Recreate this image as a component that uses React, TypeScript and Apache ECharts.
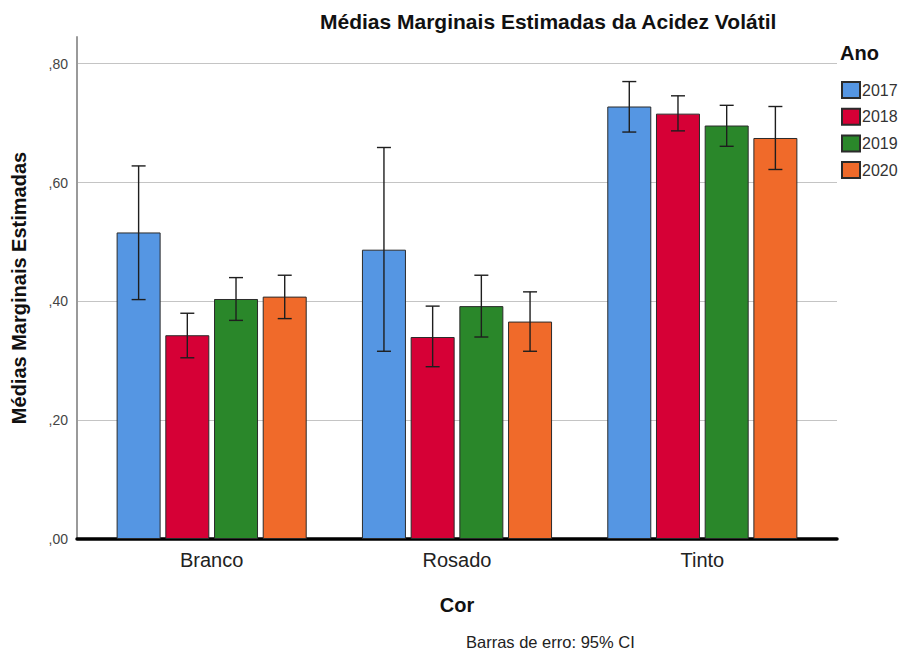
import React, { useEffect, useRef } from "react";
import * as echarts from "echarts";

// Wine colour groups on the x axis
const categories = ["Branco", "Rosado", "Tinto"];
const years = ["2017", "2018", "2019", "2020"];

// Estimated marginal means per year (one value per colour)
const means2017 = [0.516, 0.487, 0.728];
const means2018 = [0.343, 0.34, 0.716];
const means2019 = [0.404, 0.392, 0.696];
const means2020 = [0.408, 0.366, 0.675];

// 95% confidence interval bounds
const lower2017 = [0.403, 0.316, 0.685];
const upper2017 = [0.628, 0.659, 0.77];
const lower2018 = [0.305, 0.29, 0.687];
const upper2018 = [0.38, 0.392, 0.746];
const lower2019 = [0.368, 0.34, 0.661];
const upper2019 = [0.44, 0.444, 0.73];
const lower2020 = [0.371, 0.316, 0.622];
const upper2020 = [0.444, 0.416, 0.728];

const yTicks = [0, 0.2, 0.4, 0.6, 0.8];

const means = [means2017, means2018, means2019, means2020];
const lowers = [lower2017, lower2018, lower2019, lower2020];
const uppers = [upper2017, upper2018, upper2019, upper2020];
const colors = ["#5596e3", "#d60036", "#2a872a", "#f06a2a"];

const FONT = "'Liberation Sans', Arial, sans-serif";
const BAR_WIDTH = 44;
const BAR_GAP_PX = 4.7;
const Y_MAX = 0.845;

function fmtTick(v: number) {
  return "," + Math.round(v * 100).toString().padStart(2, "0");
}

export default function App() {
  const ref = useRef<HTMLDivElement>(null);

  useEffect(() => {
    if (!ref.current) return;
    const chart = echarts.init(ref.current, undefined, { renderer: "svg" });

    const barSeries = years.map((y, i) => ({
      name: y,
      type: "bar",
      xAxisIndex: 1,
      yAxisIndex: 1,
      data: means[i],
      barWidth: BAR_WIDTH,
      barGap: (BAR_GAP_PX / BAR_WIDTH) * 100 + "%",
      itemStyle: { color: colors[i], borderColor: "#2b2b2b", borderWidth: 1 },
      z: 2,
    }));

    const errSeries = years.map((y, i) => ({
      name: "IC " + y,
      type: "custom",
      xAxisIndex: 1,
      yAxisIndex: 1,
      z: 5,
      data: categories.map((_, c) => [c, lowers[i][c], uppers[i][c]]),
      renderItem: (params: any, api: any) => {
        const lo = api.coord([api.value(0), api.value(1)]);
        const hi = api.coord([api.value(0), api.value(2)]);
        const step = BAR_WIDTH + BAR_GAP_PX;
        const x = lo[0] + (i - 1.5) * step;
        const half = 7;
        const style = { stroke: "#1e1e1e", lineWidth: 1.4 };
        return {
          type: "group",
          children: [
            { type: "line", shape: { x1: x, y1: hi[1], x2: x, y2: lo[1] }, style },
            { type: "line", shape: { x1: x - half, y1: hi[1], x2: x + half, y2: hi[1] }, style },
            { type: "line", shape: { x1: x - half, y1: lo[1], x2: x + half, y2: lo[1] }, style },
          ],
        };
      },
    }));

    chart.setOption({
      animation: false,
      backgroundColor: "#ffffff",
      textStyle: { fontFamily: FONT },
      title: {
        text: "Médias Marginais Estimadas da Acidez Volátil",
        left: 320,
        top: 11,
        padding: 0,
        textStyle: { fontFamily: FONT, fontSize: 21, fontWeight: "bold", color: "#111" },
      },
      legend: {
        data: years,
        orient: "vertical",
        left: 841,
        top: 81,
        padding: 0,
        itemWidth: 18,
        itemHeight: 16,
        itemGap: 8.7,
        icon: "rect",
        textStyle: {
          fontFamily: FONT,
          fontSize: 16,
          lineHeight: 16,
          color: "#333",
          padding: [0, 0, 0, -3],
        },
      },
      graphic: [
        {
          type: "text",
          left: 840,
          top: 43,
          style: { text: "Ano", font: `bold 20px ${FONT}`, fill: "#111" },
        },
        {
          type: "text",
          left: 466,
          top: 633,
          style: { text: "Barras de erro: 95% CI", font: `16.5px ${FONT}`, fill: "#222" },
        },
      ],
      grid: [
        { left: 77, right: 62, top: 37, bottom: 113 },
        { left: 89, right: 74, top: 37, bottom: 113 },
      ],
      xAxis: [
        {
          type: "value",
          gridIndex: 0,
          min: 0,
          max: 1,
          axisLine: { show: true, lineStyle: { color: "#000", width: 3.5 } },
          axisTick: { show: false },
          axisLabel: { show: false },
          splitLine: { show: false },
        },
        {
          type: "category",
          gridIndex: 1,
          data: categories,
          name: "Cor",
          nameLocation: "middle",
          nameGap: 56,
          nameTextStyle: { fontFamily: FONT, fontSize: 20, fontWeight: "bold", color: "#111" },
          axisLine: { show: false },
          axisTick: { show: false },
          axisLabel: { fontFamily: FONT, fontSize: 20, color: "#222", margin: 11 },
        },
      ],
      yAxis: [
        {
          type: "value",
          gridIndex: 0,
          min: 0,
          max: Y_MAX,
          interval: 0.2,
          name: "Médias Marginais Estimadas",
          nameLocation: "middle",
          nameGap: 48,
          nameTextStyle: { fontFamily: FONT, fontSize: 20, fontWeight: "bold", color: "#111" },
          axisLine: { show: true, lineStyle: { color: "#9a9a9a", width: 2 } },
          axisTick: { show: false },
          axisLabel: {
            fontFamily: FONT,
            fontSize: 14,
            color: "#444",
            margin: 9,
            showMaxLabel: false,
            formatter: (v: number) =>
              yTicks.some((t) => Math.abs(t - v) < 1e-6) ? fmtTick(v) : "",
          },
          splitLine: {
            show: true,
            showMaxLine: false,
            lineStyle: { color: "#c4c4c4", width: 1 },
          },
        },
        {
          type: "value",
          gridIndex: 1,
          min: 0,
          max: Y_MAX,
          show: false,
          splitLine: { show: false },
        },
      ],
      series: [...barSeries, ...errSeries],
    });

    return () => chart.dispose();
  }, []);

  return (
    <div
      ref={ref}
      style={{ position: "fixed", left: 0, top: 0, width: 899, height: 652 }}
    />
  );
}
